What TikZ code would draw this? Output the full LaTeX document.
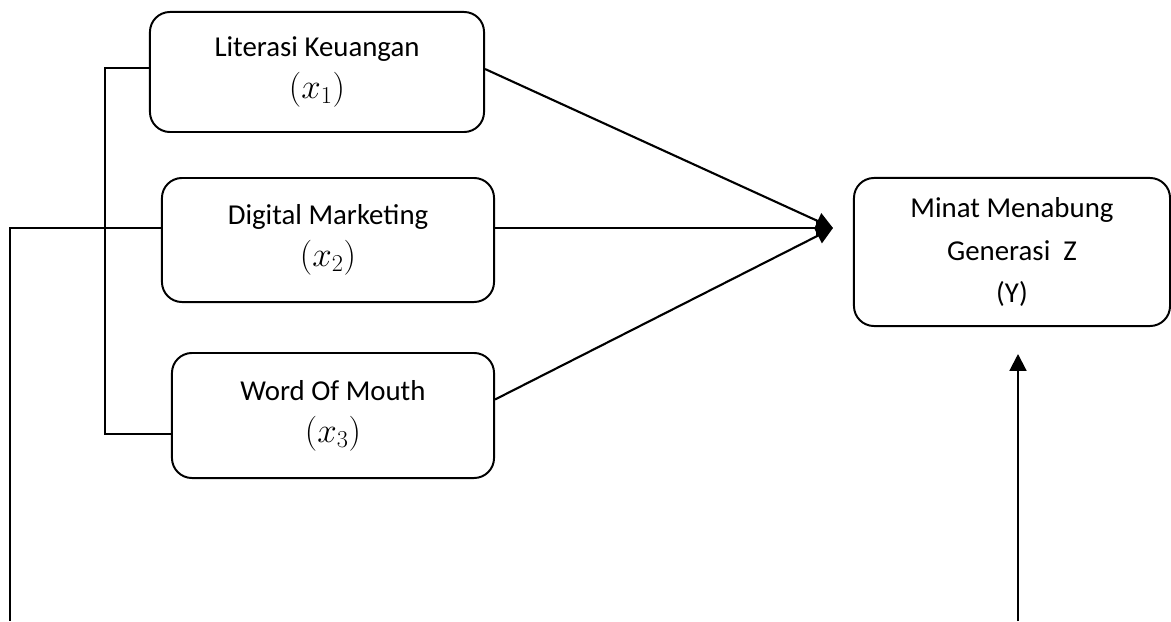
\documentclass[tikz,border=0pt]{standalone}
\usepackage{fontspec}
\setmainfont{Carlito}
\DeclareMathSizes{20.5}{24.88}{17.28}{14.4}
\usetikzlibrary{arrows.meta}
\begin{document}
\begin{tikzpicture}
        [x=0.025cm, y=0.025cm,
         box_style/.style={draw=black, line width=1.4pt, rounded corners=0.5cm, align=center,
                           font=\fontsize{20.5}{30}\selectfont, inner sep=0pt},
         line_style/.style={draw=black, line width=1.3pt},
         arrow_style/.style={draw=black, line width=1.5pt, -{Triangle[length=12pt, width=12pt]}}]
            \useasboundingbox (0,0) rectangle (1171,621);
            \node[box_style, minimum width=8.35cm, minimum height=3cm] (lk) at (317, 549)
                {Literasi Keuangan\\\((x_1)\)};
            \node[box_style, minimum width=8.3cm, minimum height=3.1cm] (dm) at (328, 381)
                {Digital Marketing\\\((x_2)\)};
            \node[box_style, minimum width=8.05cm, minimum height=3.125cm] (wom) at (333, 205.5)
                {Word Of Mouth\\\((x_3)\)};
            \node[box_style, minimum width=7.9cm, minimum height=3.7cm] (mm) at (1012, 369)
                {Minat Menabung\\Generasi\ \ Z\\(Y)};
            \coordinate (tip) at (833, 393);
            \coordinate (btop) at (105, 553);
            \coordinate (bbot) at (105, 187);
            \coordinate (lcorner) at (10, 393);
            \coordinate (lbot) at (10, 0);
            \coordinate (ybot) at (1018, 0);
            \coordinate (ytip) at (1018, 267);
            \draw[line_style] (lk.west |- btop) -- (btop) -- (bbot) -- (wom.west |- bbot);
            \draw[line_style] (dm.west |- lcorner) -- (lcorner) -- (lbot);
            \draw[arrow_style] ([yshift=0.075cm]lk.east) -- (tip);
            \draw[arrow_style] (dm.east |- tip) -- (tip);
            \draw[arrow_style] ([yshift=0.4cm]wom.east) -- (tip);
            \draw[arrow_style] (ybot) -- (ytip);
        \end{tikzpicture}
\end{document}
